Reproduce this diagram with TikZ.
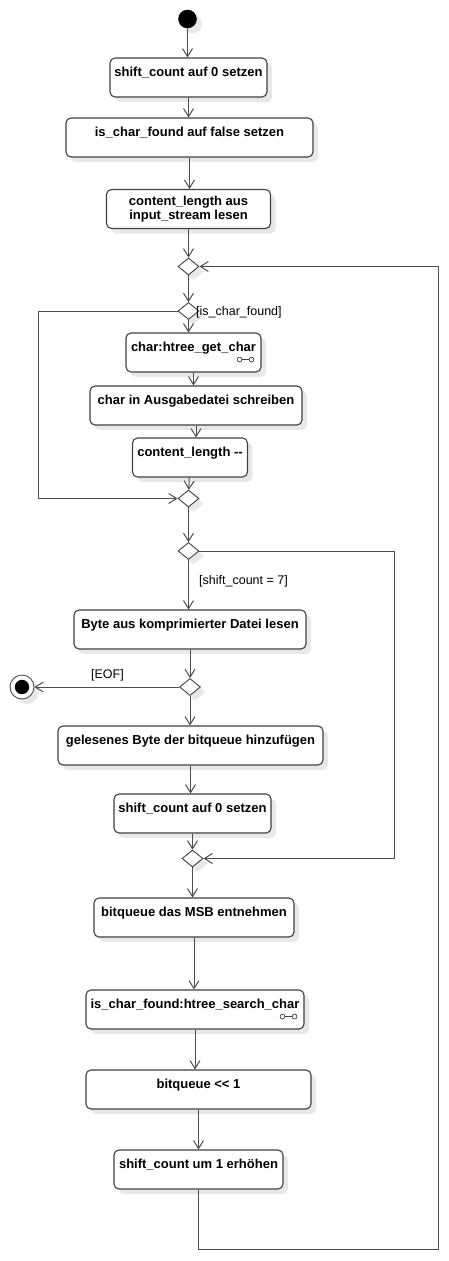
\documentclass[tikz,border=0pt]{standalone}
\usepackage{fontspec}
\setmainfont{Liberation Sans}
\usepackage{tikz}
\usetikzlibrary{calc,arrows.meta,shadows,shapes.geometric}
\def\rake(#1){\draw[line width=0.7pt, black!75] ($(#1.south east)+(-22,-13)$) circle (2.4pt) ($(#1.south east)+(-10,-13)$) circle (2.4pt) ($(#1.south east)+(-19.6,-13)$) -- ($(#1.south east)+(-12.4,-13)$);}

\tikzset{
	shade/.style={drop shadow={shadow xshift=5pt, shadow yshift=-5pt, fill=black!9, opacity=1}},
	actbox/.style={draw=black!75, line width=1.1pt, rounded corners=5pt, fill=white, inner sep=0pt, minimum height=39pt, align=center, font=\fontsize{13}{14.5}\selectfont\bfseries, shade},
	action/.style={actbox, text height=18pt, text depth=21pt},
	decision/.style={diamond, draw=black!75, line width=0.9pt, fill=white, inner sep=0pt, minimum width=21pt, minimum height=17pt, shade},
	startstate/.style={circle, fill=black, inner sep=0pt, minimum size=18.6pt, shade},
	endstate/.style={circle, draw=black!70, line width=0.9pt, fill=white, inner sep=0pt, minimum size=24pt, shade, path picture={\fill[black] (path picture bounding box.center) circle (7.2pt);}},
	flow/.style={draw=black!70, line width=1pt, -{Straight Barb[length=8pt,width=10pt]}},
	guard/.style={font=\fontsize{12.5}{14}\selectfont, inner sep=0pt},
}

\begin{document}
\begin{tikzpicture}[x=1pt, y=-1pt]
			%%%%% START %%%%%
			\useasboundingbox (0, 0) rectangle (449, 1261);
			
			\node[startstate] (start) at (187.5, 19) {};
			\node[action, minimum width=157pt] (init) at (188.5, 77.5) {shift\_count auf 0 setzen};
			\node[action, minimum width=247pt] (clear) at (189.5, 137.5) {is\_char\_found auf false setzen};
			\node[actbox, minimum width=164pt] (readlen) at (188.5, 209) {content\_length aus\\input\_stream lesen};
			
			\node[decision] (merge1) at (188.5, 266.5) {};
			\node[decision] (found) at (188.5, 311) {};
			\node[guard, anchor=west] (gfound) at (196, 312) {[is\_char\_found]};
			
			\node[action, minimum width=135pt] (getchar) at (193.5, 352.5) {char:htree\_get\_char};
			\node[action, minimum width=212pt] (write) at (196, 405.5) {char in Ausgabedatei schreiben};
			\node[action, minimum width=115pt] (declen) at (190, 457.5) {content\_length -\kern0pt-};
			\node[decision] (join1) at (188.5, 498.5) {};
			
			\node[decision] (test7) at (188.5, 551) {};
			\node[guard, anchor=west] (gshift) at (199, 581) {[shift\_count = 7]};
			\node[action, minimum width=232pt] (readbyte) at (190, 629.5) {Byte aus komprimierter Datei lesen};
			\node[decision] (eof) at (190, 687) {};
			\node[endstate] (final) at (22, 687) {};
			\node[guard] (geof) at (107.5, 675) {[EOF]};
			\node[action, minimum width=265pt] (push) at (190.5, 745.5) {gelesenes Byte der bitqueue hinzufügen};
			\node[action, minimum width=157pt] (reset) at (192.5, 813.5) {shift\_count auf 0 setzen};
			\node[decision] (join2) at (192.5, 858.5) {};
			
			\node[action, minimum width=200pt] (msb) at (194, 917.5) {bitqueue das MSB entnehmen};
			\node[action, minimum width=218pt] (search) at (195, 1009.5) {is\_char\_found:htree\_search\_char};
			\node[action, minimum width=225pt] (shift) at (198.5, 1089.5) {bitqueue <\kern0pt< 1};
			\node[action, minimum width=169pt] (incr) at (198.5, 1169.5) {shift\_count um 1 erhöhen};
			
			\rake(getchar)
			\rake(search)
			
			\coordinate (ll) at (38, 311);
			\coordinate (rl) at (394, 551);
			\coordinate (lr) at (438, 1249);
			
			\draw[flow] (start) -- (start |- init.north);
			\draw[flow] (init) -- (init |- clear.north);
			\draw[flow] (clear) -- (clear |- readlen.north);
			\draw[flow] (readlen) -- (merge1);
			\draw[flow] (merge1) -- (found);
			\draw[flow] (found) -- (found |- getchar.north);
			\draw[flow] (getchar) -- (getchar |- write.north);
			\draw[flow] (write) -- (write |- declen.north);
			\draw[flow] (declen) -- (join1);
			\draw[flow] (found.west) -- (ll) |- (join1.west);
			\draw[flow] (join1) -- (test7);
			\draw[flow] (test7) -- (test7 |- readbyte.north);
			\draw[flow] (test7.east) -- (rl) |- (join2.east);
			\draw[flow] (readbyte) -- (eof);
			\draw[flow] (eof) -- (final);
			\draw[flow] (eof) -- (eof |- push.north);
			\draw[flow] (push) -- (push |- reset.north);
			\draw[flow] (reset) -- (join2);
			\draw[flow] (join2) -- (join2 |- msb.north);
			\draw[flow] (msb) -- (msb |- search.north);
			\draw[flow] (search) -- (search |- shift.north);
			\draw[flow] (shift) -- (shift |- incr.north);
			\draw[flow] (incr) |- (lr) |- (merge1.east);
			
			%%%%% END %%%%%
\end{tikzpicture}
\end{document}
